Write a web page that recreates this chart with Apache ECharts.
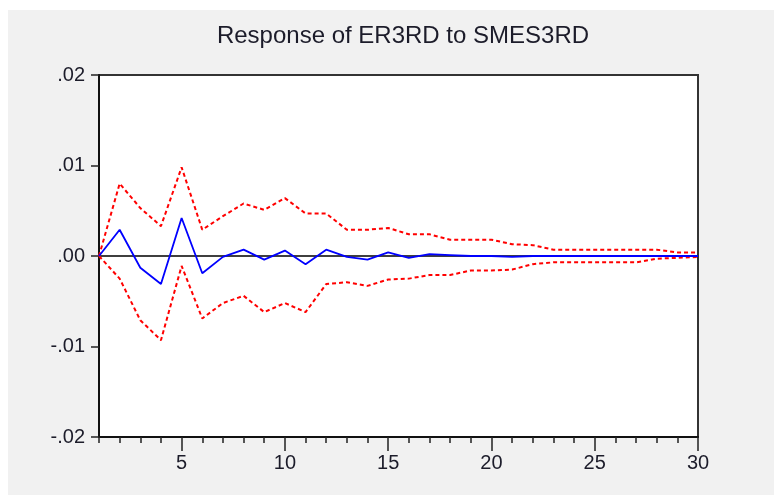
<!DOCTYPE html>
<html>
<head>
<meta charset="utf-8">
<script src="https://cdn.jsdelivr.net/npm/echarts@6/dist/echarts.min.js"></script>
<style>
  html, body { margin: 0; padding: 0; background: #fff; }
  #chart { width: 774px; height: 495px; }
</style>
</head>
<body>
<div id="chart"></div>
<script>
// impulse response periods
var steps = [1, 2, 3, 4, 5, 6, 7, 8, 9, 10, 11, 12, 13, 14, 15, 16, 17, 18, 19, 20, 21, 22, 23, 24, 25, 26, 27, 28, 29, 30]
var majorTicks = [5, 10, 15, 20, 25, 30]
var yTicks = [-0.02, -0.01, 0, 0.01, 0.02]

// response of ER3RD to SMES3RD
var response = [0, 0.0029, -0.0013, -0.0031, 0.0042, -0.0019, -0.0001, 0.0007, -0.0004, 0.0006,
  -0.0009, 0.0007, -0.0001, -0.0004, 0.0004, -0.0002, 0.0002, 0.0001, 0, 0,
  -0.0001, 0, 0, 0, 0, 0, 0, 0, 0, 0]
// +/- 2 s.e. bands
var upper = [0, 0.0080, 0.0053, 0.0033, 0.0098, 0.0029, 0.0044, 0.0058, 0.0051, 0.0064,
  0.0047, 0.0047, 0.0029, 0.0029, 0.0031, 0.0024, 0.0024, 0.0018, 0.0018, 0.0018,
  0.0013, 0.0012, 0.0007, 0.0007, 0.0007, 0.0007, 0.0007, 0.0007, 0.0004, 0.0004]
var lower = [0, -0.0025, -0.0071, -0.0093, -0.0011, -0.0069, -0.0052, -0.0044, -0.0062, -0.0052,
  -0.0062, -0.0031, -0.0029, -0.0033, -0.0026, -0.0025, -0.0021, -0.0021, -0.0016, -0.0016,
  -0.0015, -0.0009, -0.0007, -0.0007, -0.0007, -0.0007, -0.0007, -0.0003, -0.0002, -0.0001]

function pairs (vals) {
  return steps.map(function (s, i) { return [s, vals[i]] })
}

function fmtY (v) {
  var s = Math.abs(v).toFixed(2).replace(/^0/, '')
  return (v < 0 ? '-' : '') + s
}

var font = 'Liberation Sans, Arial, sans-serif'
var chart = echarts.init(document.getElementById('chart'))

var option = {
  backgroundColor: '#f1f1f1',
  animation: false,
  graphic: [
    { type: 'rect', left: 0, top: 0, shape: { width: 774, height: 10 }, style: { fill: '#fff' }, z: -1 },
    { type: 'rect', left: 0, top: 0, shape: { width: 8, height: 495 }, style: { fill: '#fff' }, z: -1 }
  ],
  title: {
    text: 'Response of ER3RD to SMES3RD',
    left: 398,
    top: 19,
    textAlign: 'center',
    textStyle: {
      fontFamily: font,
      fontSize: 24,
      fontWeight: 'normal',
      color: '#1c1c2a'
    }
  },
  grid: {
    left: 99,
    right: 76,
    top: 75,
    bottom: 58,
    show: true,
    backgroundColor: '#fff',
    borderColor: '#333',
    borderWidth: 2
  },
  xAxis: [
    {
      type: 'value',
      position: 'bottom',
      min: 1,
      max: 30,
      interval: 1,
      axisLine: { show: true, onZero: false, lineStyle: { color: '#111', width: 2 } },
      axisTick: { show: true, length: 6, lineStyle: { color: '#222', width: 1.5 } },
      axisLabel: { show: false },
      splitLine: { show: false }
    },
    {
      type: 'value',
      position: 'bottom',
      min: 1,
      max: 30,
      interval: 1,
      axisLine: { show: false, onZero: false },
      axisTick: { show: true, length: 14, customValues: majorTicks, lineStyle: { color: '#222', width: 1.5 } },
      axisLabel: {
        show: true,
        customValues: majorTicks,
        margin: 16,
        fontFamily: font,
        fontSize: 20,
        color: '#1c1c2a'
      },
      splitLine: { show: false }
    }
  ],
  yAxis: {
    type: 'value',
    min: yTicks[0],
    max: yTicks[yTicks.length - 1],
    interval: 0.01,
    axisLine: { show: true, onZero: false, lineStyle: { color: '#111', width: 2 } },
    axisTick: { show: true, length: 8, lineStyle: { color: '#222', width: 1.5 } },
    axisLabel: {
      margin: 14,
      fontFamily: font,
      fontSize: 20,
      color: '#1c1c2a',
      formatter: fmtY
    },
    splitLine: { show: false }
  },
  series: [
    {
      name: 'zero',
      type: 'line',
      data: pairs(steps.map(function () { return 0 })),
      symbol: 'none',
      lineStyle: { color: '#000', width: 1.5 },
      z: 1
    },
    {
      name: 'upper',
      type: 'line',
      data: pairs(upper),
      symbol: 'none',
      lineStyle: { color: '#ff0000', width: 2, type: [4, 3] },
      z: 2
    },
    {
      name: 'lower',
      type: 'line',
      data: pairs(lower),
      symbol: 'none',
      lineStyle: { color: '#ff0000', width: 2, type: [4, 3] },
      z: 2
    },
    {
      name: 'response',
      type: 'line',
      data: pairs(response),
      symbol: 'none',
      lineStyle: { color: '#0000ff', width: 1.8 },
      z: 3
    }
  ]
}

chart.setOption(option)
</script>
</body>
</html>
